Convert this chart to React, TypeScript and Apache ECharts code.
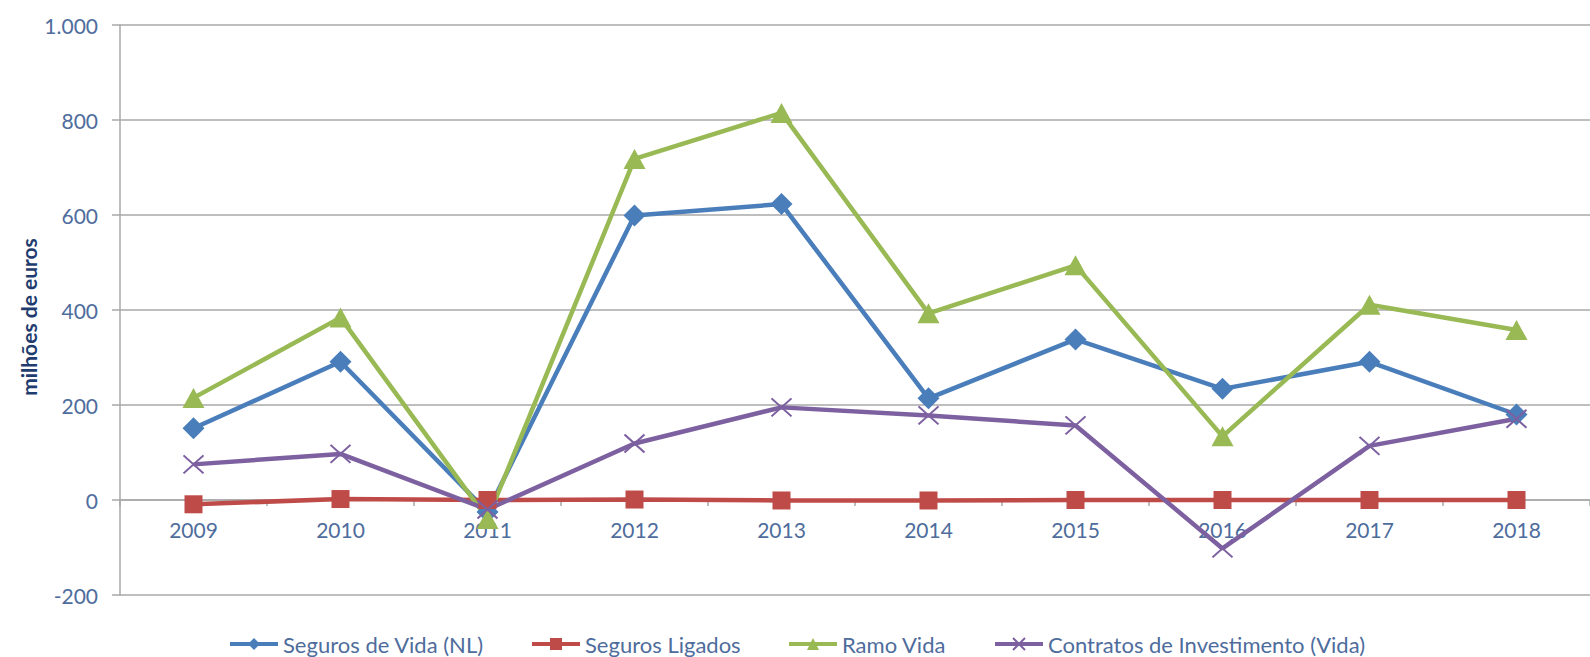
import React, { useEffect, useRef } from "react";
import * as echarts from "echarts";

const years = ["2009", "2010", "2011", "2012", "2013", "2014", "2015", "2016", "2017", "2018"];
const segurosVidaNL = [151, 291, -25, 599, 623, 214, 338, 234, 291, 180];
const segurosLigados = [-9, 2, 0, 1, -1, -1, 0, 0, 0, 0];
const ramoVida = [215, 384, -40, 718, 815, 393, 494, 134, 411, 358];
const contratosInvestimento = [75, 97, -20, 119, 195, 178, 157, -102, 114, 171];

const seriesNames = [
  "Seguros de Vida (NL)",
  "Seguros Ligados",
  "Ramo Vida",
  "Contratos de Investimento (Vida)",
];
const yTitle = "milhões de euros";

const FONT = "Lato, 'Open Sans', sans-serif";
const LABEL_COLOR = "#4e6c9c";
const GRID_COLOR = "#a8a8a8";

const fmt = (v: number) => String(v).replace(/\B(?=(\d{3})+(?!\d))/g, ".");

const mkLegend = (name: string, left: number) => ({
  data: [name],
  left,
  top: 631,
  padding: 0,
  itemWidth: 48,
  itemHeight: 15,
  selectedMode: false,
  lineStyle: { width: 4 },
  textStyle: { fontFamily: FONT, fontSize: 22, color: LABEL_COLOR, lineHeight: 26 },
});

export default function App() {
  const ref = useRef<HTMLDivElement>(null);
  useEffect(() => {
    document.body.style.margin = "0";
    document.documentElement.style.overflow = "hidden";
    const chart = echarts.init(ref.current!, null, { renderer: "svg" });
    const option = {
      animation: false,
      backgroundColor: "#ffffff",
      grid: { left: 120, top: 25, width: 1485, height: 570, containLabel: false },
      legend: [
        mkLegend(seriesNames[0], 228),
        mkLegend(seriesNames[1], 530),
        mkLegend(seriesNames[2], 787),
        mkLegend(seriesNames[3], 993),
      ],
      graphic: [
        {
          type: "text",
          x: 28,
          y: 317,
          rotation: Math.PI / 2,
          style: {
            text: yTitle,
            fontFamily: FONT,
            fontSize: 21,
            fontWeight: "bold",
            fill: "#1f3c6e",
            align: "center",
            verticalAlign: "middle",
          },
        },
      ],
      xAxis: {
        type: "category",
        data: years,
        boundaryGap: true,
        offset: -95,
        axisLine: { onZero: false, lineStyle: { color: GRID_COLOR, width: 1.5 } },
        axisTick: { show: true, interval: 0, length: 6, lineStyle: { color: GRID_COLOR, width: 1.5 } },
        axisLabel: { margin: 19, fontFamily: FONT, fontSize: 21, color: LABEL_COLOR, interval: 0 },
        splitLine: { show: false },
      },
      yAxis: {
        type: "value",
        min: -200,
        max: 1000,
        interval: 200,
        axisLine: { show: true, lineStyle: { color: GRID_COLOR, width: 1.5 } },
        axisTick: { show: true, length: 8, lineStyle: { color: GRID_COLOR, width: 1.5 } },
        axisLabel: { margin: 22, fontFamily: FONT, fontSize: 21, color: LABEL_COLOR, formatter: fmt },
        splitLine: { show: true, lineStyle: { color: GRID_COLOR, width: 1.5 } },
      },
      series: [
        {
          name: seriesNames[0],
          type: "line",
          data: segurosVidaNL,
          symbol: "diamond",
          symbolSize: [22, 22],
          lineStyle: { color: "#4a7ebb", width: 4.5 },
          itemStyle: { color: "#4a7ebb" },
        },
        {
          name: seriesNames[1],
          type: "line",
          data: segurosLigados,
          symbol: "rect",
          symbolSize: [18, 18],
          lineStyle: { color: "#be4b48", width: 4.5 },
          itemStyle: { color: "#be4b48" },
        },
        {
          name: seriesNames[2],
          type: "line",
          data: ramoVida,
          symbol: "triangle",
          symbolSize: [22, 20],
          lineStyle: { color: "#98b954", width: 4.5 },
          itemStyle: { color: "#98b954" },
        },
        {
          name: seriesNames[3],
          type: "line",
          data: contratosInvestimento,
          symbol: "path://M0,0L20,18M20,0L0,18",
          symbolSize: [20, 18],
          lineStyle: { color: "#7d60a0", width: 4.5 },
          itemStyle: { color: "#7d60a0", borderColor: "#7d60a0", borderWidth: 2 },
        },
      ],
    };
    chart.setOption(option as any);
    return () => chart.dispose();
  }, []);
  return <div ref={ref} style={{ width: 1590, height: 657 }} />;
}
